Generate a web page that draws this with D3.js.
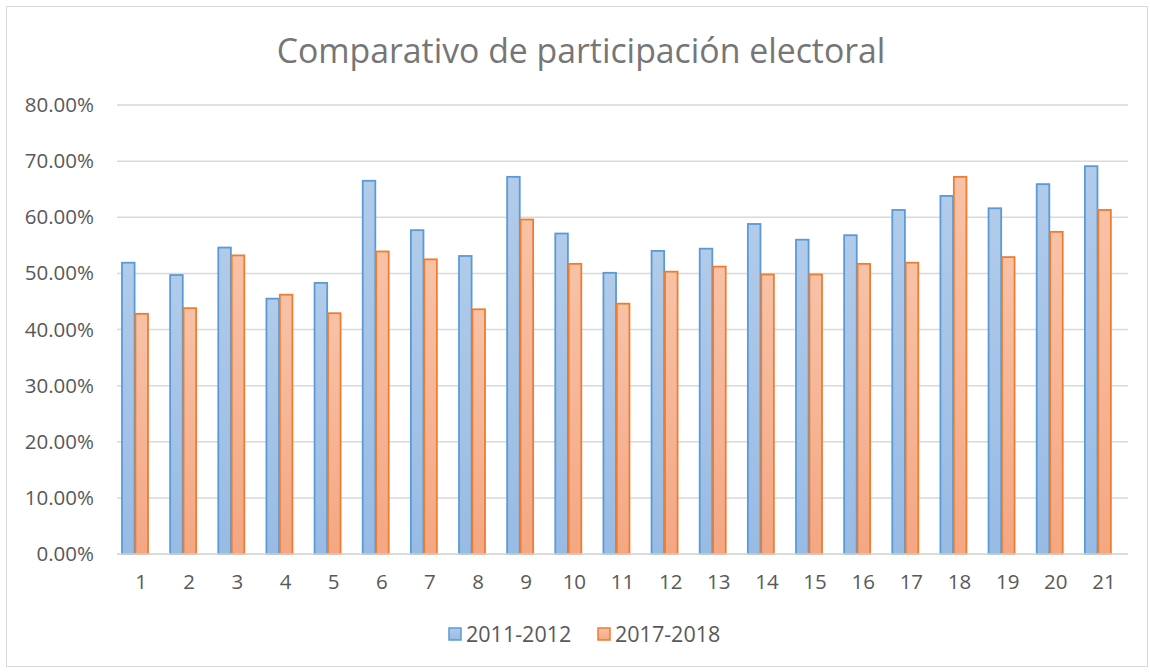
<!DOCTYPE html>
<html>
<head>
<meta charset="utf-8">
<script src="https://cdn.jsdelivr.net/npm/d3@7"></script>
<style>
  body { margin: 0; background: #fff; }
  text { font-family: "Open Sans", sans-serif; }
</style>
</head>
<body>
<div id="chart"></div>
<script>
// categories and series values
var categories = ["1","2","3","4","5","6","7","8","9","10","11","12","13","14","15","16","17","18","19","20","21"];
var seriesNames = ["2011-2012", "2017-2018"];
var values2011 = [0.519, 0.497, 0.546, 0.455, 0.483, 0.665, 0.577, 0.531, 0.672, 0.571, 0.501, 0.540, 0.544, 0.588, 0.560, 0.568, 0.613, 0.638, 0.616, 0.659, 0.691];
var values2017 = [0.428, 0.438, 0.532, 0.462, 0.429, 0.539, 0.525, 0.436, 0.596, 0.517, 0.446, 0.503, 0.512, 0.498, 0.498, 0.517, 0.519, 0.672, 0.529, 0.574, 0.613];
var yTicks = [0, 0.1, 0.2, 0.3, 0.4, 0.5, 0.6, 0.7, 0.8];

var width = 1150, height = 672;
var margin = {top: 105, right: 22, bottom: 118, left: 117},
    w = width - margin.left - margin.right,
    h = height - margin.top - margin.bottom;

var svg = d3.select("#chart")
  .append("svg")
    .attr("width", width)
    .attr("height", height);

// gradients for bar fills
var defs = svg.append("defs");
var grads = [
  {id: "gBlue", top: "#b1cbea", bottom: "#98bbe4"},
  {id: "gOrange", top: "#f8c2a7", bottom: "#f4a783"}
];
grads.forEach(function(g) {
  var lg = defs.append("linearGradient")
    .attr("id", g.id).attr("x1", 0).attr("y1", 0).attr("x2", 0).attr("y2", 1);
  lg.append("stop").attr("offset", "0%").attr("stop-color", g.top);
  lg.append("stop").attr("offset", "100%").attr("stop-color", g.bottom);
});
var strokes = ["#5b9bd5", "#ed7d31"];
var fills = ["url(#gBlue)", "url(#gOrange)"];

// chart border
svg.append("rect")
  .attr("x", 6.5).attr("y", 6.5)
  .attr("width", 1141).attr("height", 660)
  .attr("fill", "none")
  .attr("stroke", "#d9d9d9")
  .attr("stroke-width", 1);

// title
svg.append("text")
  .attr("x", 581).attr("y", 63)
  .attr("text-anchor", "middle")
  .attr("fill", "#767676")
  .style("font-size", "33.8px")
  .text("Comparativo de participación electoral");

var g = svg.append("g")
  .attr("transform", "translate(" + margin.left + "," + margin.top + ")");

var x = d3.scaleBand()
  .domain(categories)
  .range([0, w]);

var xSub = d3.scaleBand()
  .domain(seriesNames)
  .range([5, 31])
  .paddingInner(0.06);

var y = d3.scaleLinear()
  .domain([0, 0.8])
  .range([h, 0]);

// gridlines
g.append("g")
  .selectAll("line")
  .data(yTicks)
  .enter()
  .append("line")
    .attr("x1", 0).attr("x2", w)
    .attr("y1", function(d) { return y(d); })
    .attr("y2", function(d) { return y(d); })
    .attr("stroke", "#d9d9d9")
    .attr("stroke-width", 1.5);

// Y axis labels
var yAxis = g.append("g")
  .call(d3.axisLeft(y).tickValues(yTicks).tickFormat(d3.format(".2%")).tickSize(0).tickPadding(23));
yAxis.select(".domain").remove();
yAxis.selectAll("text")
  .attr("fill", "#595959")
  .style("font-size", "20.5px")
  .style("font-family", "'Open Sans', sans-serif");

// X axis labels
var xAxis = g.append("g")
  .attr("transform", "translate(0," + h + ")")
  .call(d3.axisBottom(x).tickSize(0).tickPadding(20));
xAxis.select(".domain").remove();
xAxis.selectAll("text")
  .attr("fill", "#595959")
  .style("font-size", "20.5px")
  .style("font-family", "'Open Sans', sans-serif");

// bars
var rows = categories.map(function(c, i) {
  return {cat: c, vals: [values2011[i], values2017[i]]};
});

var groups = g.selectAll(".grp")
  .data(rows)
  .enter()
  .append("g")
    .attr("class", "grp")
    .attr("transform", function(d) { return "translate(" + x(d.cat) + ",0)"; });

groups.selectAll("rect")
  .data(function(d) { return d.vals.map(function(v, k) { return {s: seriesNames[k], v: v, k: k}; }); })
  .enter()
  .append("rect")
    .attr("x", function(d) { return xSub(d.s); })
    .attr("y", function(d) { return y(d.v); })
    .attr("width", xSub.bandwidth())
    .attr("height", function(d) { return h - y(d.v); })
    .attr("fill", function(d) { return fills[d.k]; })
    .attr("stroke", function(d) { return strokes[d.k]; })
    .attr("stroke-width", 1.8);

// baseline
g.append("line")
  .attr("x1", 0).attr("x2", w)
  .attr("y1", h).attr("y2", h)
  .attr("stroke", "#d9d9d9")
  .attr("stroke-width", 1.5);

// legend
var legendX = [449, 598];
var legend = svg.selectAll(".leg")
  .data(seriesNames)
  .enter()
  .append("g")
    .attr("class", "leg")
    .attr("transform", function(d, i) { return "translate(" + legendX[i] + ",628)"; });
legend.append("rect")
  .attr("width", 12).attr("height", 12)
  .attr("fill", function(d, i) { return fills[i]; })
  .attr("stroke", function(d, i) { return strokes[i]; })
  .attr("stroke-width", 1.5);
legend.append("text")
  .attr("x", 17).attr("y", 13.5)
  .attr("fill", "#595959")
  .style("font-size", "21.5px")
  .text(function(d) { return d; });
</script>
</body>
</html>
